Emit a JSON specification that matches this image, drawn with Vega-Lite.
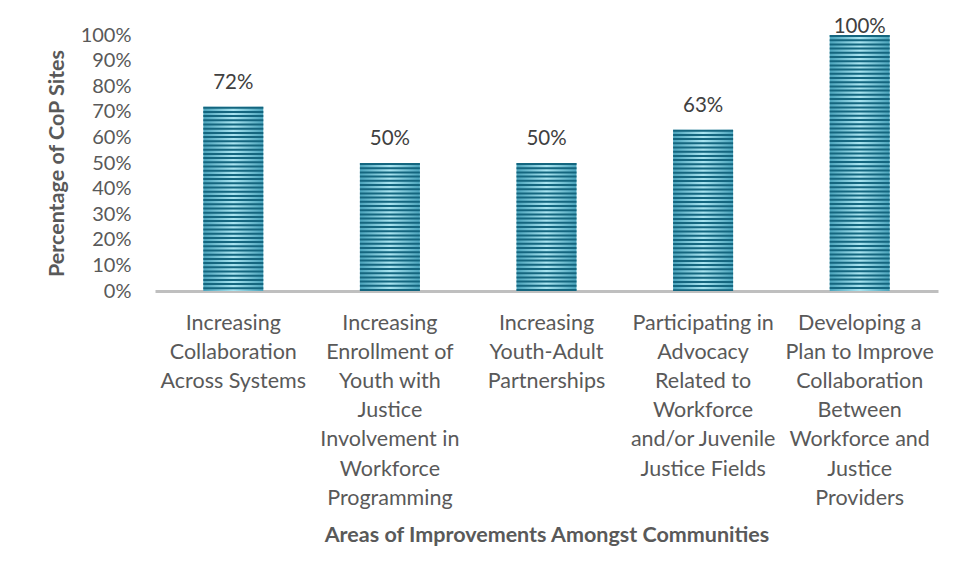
{
  "$schema": "https://vega.github.io/schema/vega-lite/v6.json",
  "autosize": {"type": "none"},
  "width": 783,
  "height": 256,
  "padding": {"left": 155, "top": 35, "right": 18, "bottom": 287},
  "background": "white",
  "config": {
    "view": {"stroke": null},
    "font": "Lato",
    "axis": {"labelFont": "Lato", "titleFont": "Lato", "labelColor": "#595959", "titleColor": "#595959"}
  },
  "data": {
    "values": [
      {"area": "Increasing Collaboration Across Systems", "value": 0.72},
      {"area": "Increasing Enrollment of Youth with Justice Involvement in Workforce Programming", "value": 0.50},
      {"area": "Increasing Youth-Adult Partnerships", "value": 0.50},
      {"area": "Participating in Advocacy Related to Workforce and/or Juvenile Justice Fields", "value": 0.63},
      {"area": "Developing a Plan to Improve Collaboration Between Workforce and Justice Providers", "value": 1.00}
    ]
  },
  "encoding": {
    "x": {
      "field": "area", "type": "nominal", "sort": null,
      "scale": {"paddingInner": 0.617, "paddingOuter": 0.3085},
      "axis": {
        "title": "Areas of Improvements Amongst Communities",
        "titleFontSize": 21.5, "titleFontWeight": "bold", "titlePadding": 33,
        "labelAngle": 0, "labelFontSize": 21.5, "labelLineHeight": 29.2,
        "labelPadding": 21, "labelLimit": 240, "labelOverlap": false,
        "ticks": false, "domainColor": "#bfbfbf", "domainWidth": 3,
        "labelExpr": "{'Increasing Collaboration Across Systems': ['Increasing','Collaboration','Across Systems'], 'Increasing Enrollment of Youth with Justice Involvement in Workforce Programming': ['Increasing','Enrollment of','Youth with','Justice','Involvement in','Workforce','Programming'], 'Increasing Youth-Adult Partnerships': ['Increasing','Youth-Adult','Partnerships'], 'Participating in Advocacy Related to Workforce and/or Juvenile Justice Fields': ['Participating in','Advocacy','Related to','Workforce','and/or Juvenile','Justice Fields'], 'Developing a Plan to Improve Collaboration Between Workforce and Justice Providers': ['Developing a','Plan to Improve','Collaboration','Between','Workforce and','Justice','Providers']}[datum.label]"
      }
    },
    "y": {
      "field": "value", "type": "quantitative",
      "scale": {"domain": [0, 1], "nice": false},
      "axis": {
        "title": "Percentage of CoP Sites", "titleFontSize": 21.5, "titleFontWeight": "bold",
        "titlePadding": 12, "values": [0, 0.1, 0.2, 0.3, 0.4, 0.5, 0.6, 0.7, 0.8, 0.9, 1],
        "format": ".0%", "labelFontSize": 20, "labelPadding": 24, "labelOverlap": false,
        "ticks": false, "domain": false, "grid": false
      }
    }
  },
  "layer": [
    {
      "mark": {
        "type": "bar",
        "fill": {"gradient": "linear", "x1": 0, "y1": 0, "x2": 1, "y2": 0,
          "stops": [
            {"offset": 0, "color": "#4aa3bb"},
            {"offset": 0.5, "color": "#a9e5f1"},
            {"offset": 1, "color": "#4aa3bb"}
          ]}
      }
    },
    {
      "mark": {"type": "rule", "color": "#14667f", "strokeWidth": 60, "strokeDash": [2, 2.2], "strokeCap": "butt"},
      "encoding": {
        "y2": {"datum": 0}
      }
    },
    {
      "mark": {"type": "text", "fontSize": 20.5, "color": "#404040", "baseline": "middle",
        "dy": {"expr": "datum.value >= 1 ? -8 : -24"}},
      "encoding": {
        "text": {"field": "value", "type": "quantitative", "format": ".0%"}
      }
    }
  ]
}
